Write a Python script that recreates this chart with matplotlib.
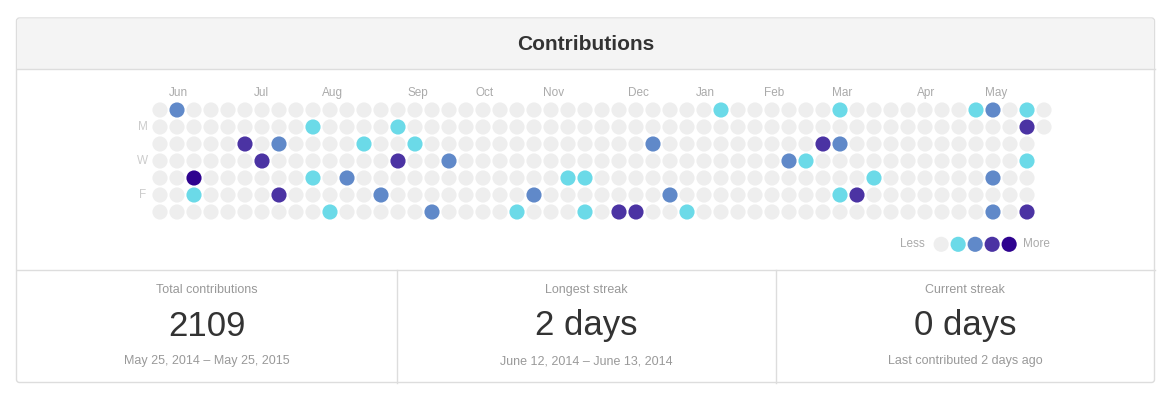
import matplotlib
matplotlib.use('Agg')
import matplotlib.pyplot as plt
from matplotlib.patches import Circle, FancyBboxPatch, Rectangle

plt.rcParams['font.family'] = ['Liberation Sans', 'DejaVu Sans']

# 日历数据: 53 周, 最后一周只有 2 天
n_weeks = 53
last_week_days = 2
# 有贡献的格子: 周序号, 星期(0=周日), 等级
weeks = [1, 9, 14, 5, 7, 12, 15, 6, 14, 17, 2, 9, 11, 2, 7, 13, 10, 16,
         33, 29, 24, 25, 22, 30, 21, 25, 27, 28, 31,
         40, 48, 49, 51, 51, 39, 40, 37, 38, 51, 42, 49, 40, 41, 49, 51]
days = [0, 1, 1, 2, 2, 2, 2, 3, 3, 3, 4, 4, 4, 5, 5, 5, 6, 6,
        0, 2, 4, 4, 5, 5, 6, 6, 6, 6, 6,
        0, 0, 0, 0, 1, 2, 2, 3, 3, 3, 4, 4, 5, 5, 6, 6]
levels = [2, 1, 1, 3, 2, 1, 1, 3, 3, 2, 4, 1, 2, 1, 3, 2, 1, 2,
          1, 2, 1, 1, 2, 2, 1, 1, 3, 3, 1,
          1, 1, 2, 1, 3, 3, 2, 2, 1, 1, 1, 2, 1, 3, 2, 3]

month_labels = ['Jun', 'Jul', 'Aug', 'Sep', 'Oct', 'Nov', 'Dec', 'Jan', 'Feb', 'Mar', 'Apr', 'May']
month_weeks = [1, 6, 10, 15, 19, 23, 28, 32, 36, 40, 45, 49]
day_labels = ['M', 'W', 'F']
day_rows = [1, 3, 5]

level_colors = ['#eeeeee', '#6bdae8', '#6089c9', '#4b33a3', '#2e038f']

stat_titles = ['Total contributions', 'Longest streak', 'Current streak']
stat_values = ['2109', '2 days', '0 days']
stat_notes = ['May 25, 2014 – May 25, 2015', 'June 12, 2014 – June 13, 2014',
              'Last contributed 2 days ago']

W, H = 1172, 399
fig = plt.figure(figsize=(W / 100, H / 100), dpi=100)
fig.patch.set_facecolor('white')

# 外框 (像素坐标)
ax = fig.add_axes([0, 0, 1, 1])
ax.set_xlim(0, W)
ax.set_ylim(H, 0)
ax.axis('off')

bx0, by0, bx1, by1 = 16.5, 18, 1154.5, 382.5
ax.add_patch(FancyBboxPatch((bx0, by0), bx1 - bx0, by1 - by0,
                            boxstyle='round,pad=0,rounding_size=3',
                            fc='white', ec='#dddddd', lw=1, zorder=1))
ax.add_patch(FancyBboxPatch((bx0 + 0.5, by0 + 0.5), bx1 - bx0 - 1, 69 - by0,
                            boxstyle='round,pad=0,rounding_size=3',
                            fc='#f4f4f4', ec='none', zorder=2))
ax.add_patch(Rectangle((bx0 + 0.5, 40), bx1 - bx0 - 1, 29, fc='#f4f4f4', ec='none', zorder=2))
ax.plot([bx0, bx1], [69, 69], color='#dddddd', lw=1, zorder=3)
ax.text((bx0 + bx1) / 2, 44, 'Contributions', ha='center', va='center',
        fontsize=15, fontweight='bold', color='#333333', zorder=4)

# 底部统计
ax.plot([bx0, bx1], [269.5, 269.5], color='#dddddd', lw=1, zorder=3)
for xv in [396.5, 775.5]:
    ax.plot([xv, xv], [269.5, by1], color='#dddddd', lw=1, zorder=3)
centers = [207, 586, 965]
for cx, t, v, n in zip(centers, stat_titles, stat_values, stat_notes):
    ax.text(cx, 290, t, ha='center', va='center', fontsize=9, color='#999999')
    ax.text(cx, 326, v, ha='center', va='center', fontsize=25, color='#333333')
    ax.text(cx, 361, n, ha='center', va='center', fontsize=9, color='#999999')

# 日历格子, 每格 17 像素
gx = fig.add_axes([151.5 / W, 1 - 220.5 / H, 901 / W, 119 / H])
gx.set_xlim(-0.5, n_weeks - 0.5)
gx.set_ylim(6.5, -0.5)
gx.axis('off')

grid = {}
for w in range(n_weeks):
    nd = last_week_days if w == n_weeks - 1 else 7
    for d in range(nd):
        grid[(w, d)] = 0
for w, d, lv in zip(weeks, days, levels):
    grid[(w, d)] = lv
for (w, d), lv in grid.items():
    gx.add_patch(Circle((w, d), 0.445, fc=level_colors[lv], ec='none'))

for lab, w in zip(month_labels, month_weeks):
    gx.text(w - 0.45, -1.0, lab, ha='left', va='center', fontsize=8.5,
            color='#aaaaaa', clip_on=False)
for lab, d in zip(day_labels, day_rows):
    gx.text(-1.0, d, lab, ha='center', va='center', fontsize=8.5,
            color='#cccccc', clip_on=False)

# 图例
gx.text(45.0, 7.9, 'Less', ha='right', va='center', fontsize=8.5, color='#aaaaaa', clip_on=False)
for i, c in enumerate(level_colors):
    gx.add_patch(Circle((45.95 + i, 7.9), 0.445, fc=c, ec='none', clip_on=False))
gx.text(50.75, 7.9, 'More', ha='left', va='center', fontsize=8.5, color='#aaaaaa', clip_on=False)

fig.savefig('out.png', dpi=100, facecolor='white')
